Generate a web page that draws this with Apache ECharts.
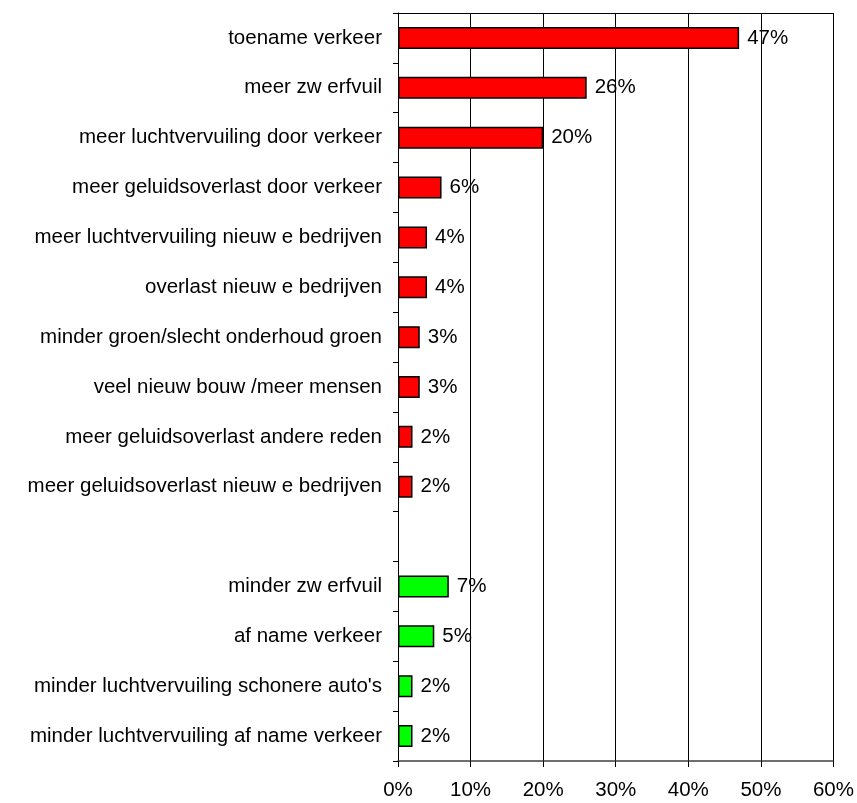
<!DOCTYPE html>
<html>
<head>
<meta charset="utf-8">
<script src="https://cdn.jsdelivr.net/npm/echarts@6/dist/echarts.min.js"></script>
<style>html,body{margin:0;padding:0;background:#fff}#c{width:857px;height:803px}</style>
</head>
<body>
<div id="c"></div>
<script>
var negCategories = ["toename verkeer","meer zw erfvuil","meer luchtvervuiling door verkeer","meer geluidsoverlast door verkeer","meer luchtvervuiling nieuw e bedrijven","overlast nieuw e bedrijven","minder groen/slecht onderhoud groen","veel nieuw bouw /meer mensen","meer geluidsoverlast andere reden","meer geluidsoverlast nieuw e bedrijven"];
var negValues = [47,26,20,6,4,4,3,3,2,2];
var posCategories = ["minder zw erfvuil","af name verkeer","minder luchtvervuiling schonere auto's","minder luchtvervuiling af name verkeer"];
var posValues = [7,5,2,2];
var xTicks = [0,10,20,30,40,50,60];

var categories = negCategories.concat([""]).concat(posCategories);
var redData = negValues.concat([null]).concat(posCategories.map(function(){return null;}));
var greenData = negCategories.map(function(){return null;}).concat([null]).concat(posValues);

var FONT = "Liberation Sans";
var FS = 20.5;
var chart = echarts.init(document.getElementById('c'));
var barLabel = {show:true, position:'right', distance:8, formatter:'{c}%', color:'#000', fontFamily:FONT, fontSize:FS};
chart.setOption({
  animation:false,
  backgroundColor:'#fff',
  grid:{left:398, right:20, top:13, bottom:42, containLabel:false},
  xAxis:[{
    type:'value', min:xTicks[0], max:xTicks[xTicks.length-1], interval:10,
    axisLine:{show:true, lineStyle:{color:'#404040', width:1.5}},
    axisTick:{show:true, length:6, lineStyle:{color:'#000'}},
    axisLabel:{formatter:'{value}%', color:'#000', fontFamily:FONT, fontSize:FS, margin:19},
    splitLine:{show:true, lineStyle:{color:'#000', width:1}}
  },{
    type:'value', position:'top', min:0, max:60, interval:10,
    axisLine:{show:true, lineStyle:{color:'#000', width:1}},
    axisTick:{show:false}, axisLabel:{show:false}, splitLine:{show:false}
  }],
  yAxis:{
    type:'category', data:categories, inverse:true,
    axisLine:{show:true, lineStyle:{color:'#000', width:1}},
    axisTick:{show:true, length:5, lineStyle:{color:'#000'}},
    axisLabel:{color:'#000', fontFamily:FONT, fontSize:FS, margin:16, interval:0},
    splitLine:{show:false}
  },
  series:[{
    type:'bar', data:redData, barWidth:22, barGap:'-100%',
    itemStyle:{color:'#FF0000', borderColor:'#000', borderWidth:1.5},
    label:barLabel
  },{
    type:'bar', data:greenData, barWidth:22, barGap:'-100%',
    itemStyle:{color:'#00FF00', borderColor:'#000', borderWidth:1.5},
    label:barLabel
  }]
});
</script>
</body>
</html>
